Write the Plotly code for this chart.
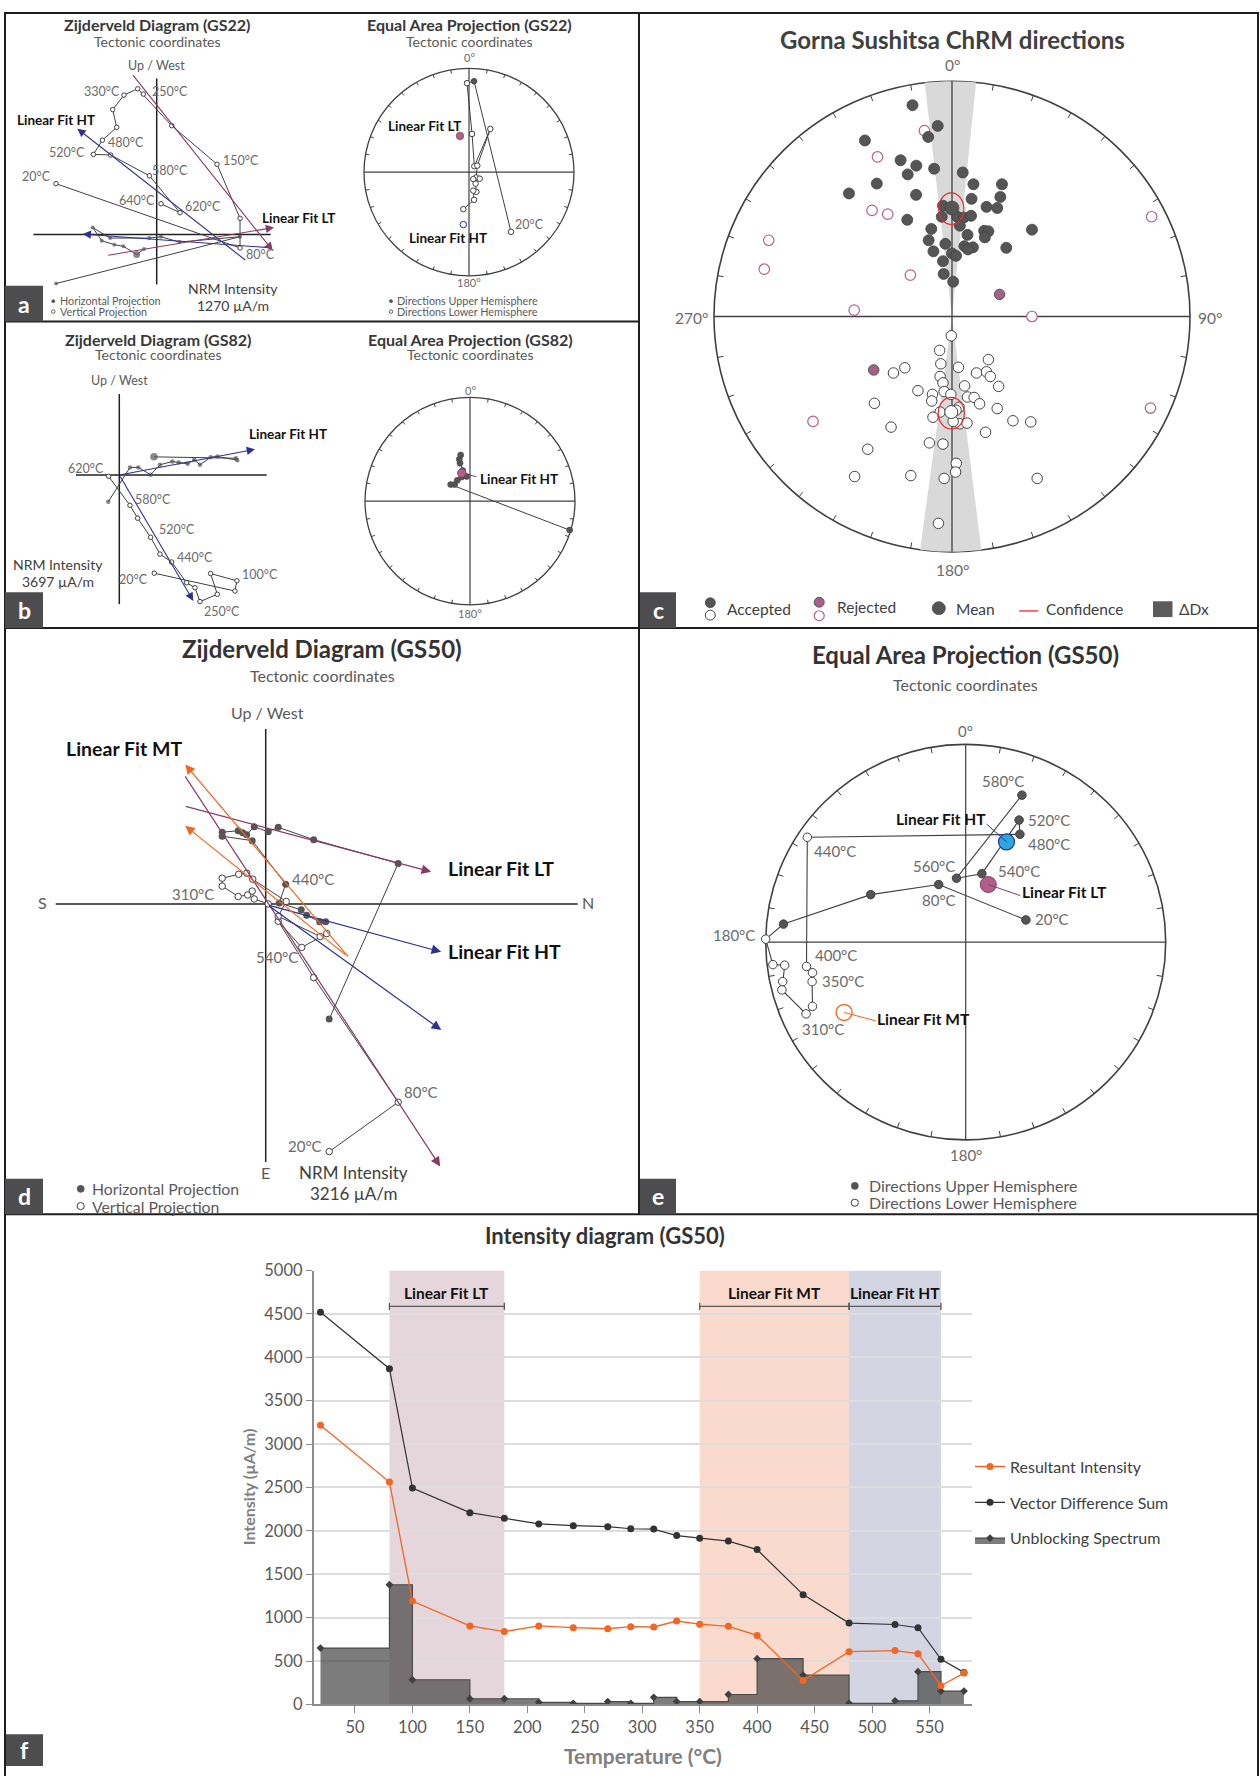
import numpy as np
import plotly.graph_objects as go

W, H = 1260, 1776
FONT = "Lato, 'Open Sans', sans-serif"
DARK = "#555555"
EDGE = "#404040"
LBL = "#6b6b6b"
TITLE = "#383838"
SUB = "#5a5a5a"
C_LT = "#8a3a66"
C_HT = "#2e3192"
C_MT = "#f26522"
C_REJ = "#b5608a"

# ------------------------------------------------------------------
# Panel a - GS22 Zijderveld (x = North, y = West / Up, arbitrary units)
gs22_hor_n = [-3.02, 2.50, 0.68, 0.13, -0.22, -1.40, -1.92, -1.65, -1.27, -1.00, -0.60, -0.38]
gs22_hor_w = [-1.49, -0.07, -0.23, -0.07, -0.11, -0.11, 0.21, -0.19, -0.31, -0.36, -0.61, -0.44]
gs22_ver_n = [-3.02, 2.50, 2.50, 1.81, 0.45, -0.40, -0.57, -0.98, -1.32, -1.20, -1.63, -1.90, -1.38, -0.22, 0.70, 0.13]
gs22_ver_up = [1.54, -0.41, 0.49, 2.13, 3.30, 4.26, 4.42, 4.23, 3.79, 3.25, 2.86, 2.43, 2.41, 1.78, 0.66, 0.93]
gs22_fit_name = ["HT", "HT", "LT", "LT"]
gs22_fit_from = [(2.70, -0.81), (3.50, -0.41), (-0.75, 4.88), (-1.50, -0.64)]
gs22_fit_to = [(-2.38, 3.21), (-2.22, 0.01), (3.48, -0.49), (3.52, 0.21)]

# Panel a - GS22 equal-area directions (projected east / north, unit circle)
gs22_ea_x = [0.40, 0.048, -0.019, 0.029, 0.051, 0.203, 0.079, 0.067, 0.102, 0.041, 0.063, 0.070, 0.041, 0.048, -0.054]
gs22_ea_y = [-0.575, 0.876, 0.857, 0.368, 0.057, 0.416, 0.063, -0.051, -0.063, -0.067, -0.111, -0.190, -0.178, -0.267, -0.356]
gs22_ea_upper = [False, True] + [False] * 13
gs22_fit_dir_x = [-0.086, -0.054]   # LT, HT
gs22_fit_dir_y = [0.349, -0.505]

# Panel b - GS82 Zijderveld
gs82_hor_n = [1.04, 3.50, 3.54, 2.94, 2.74, 2.42, 2.25, 2.05, 1.78, 1.59, 1.22, 0.94, 0.57, 0.32, -0.33]
gs82_hor_w = [0.55, 0.51, 0.45, 0.56, 0.54, 0.31, 0.46, 0.34, 0.38, 0.41, 0.31, 0.01, 0.23, 0.23, -0.81]
gs82_ver_n = [1.05, 3.47, 3.53, 2.74, 2.94, 2.42, 2.27, 2.02, 1.57, 1.22, 0.94, 0.55, 0.32, -0.32]
gs82_ver_up = [-2.98, -3.52, -3.21, -2.99, -3.62, -3.84, -3.42, -3.27, -2.64, -2.40, -1.89, -1.31, -0.92, -0.04]
gs82_fit_from = [(0.0, 0.0), (0.0, 0.0)]
gs82_fit_to = [(4.07, 0.78), (2.22, -3.82)]

# Panel b - GS82 equal-area directions
gs82_ea_x = [0.949, -0.184, -0.146, -0.121, -0.079, -0.032, -0.070, -0.095, -0.102, -0.089]
gs82_ea_y = [-0.279, 0.159, 0.159, 0.200, 0.232, 0.238, 0.295, 0.365, 0.403, 0.444]
gs82_fit_dir = (-0.079, 0.270)

# Panel c - site ChRM directions (projected east / north)
c_up_x = [-0.166, -0.060, -0.100, -0.366, -0.216, -0.150, -0.075, -0.186, 0.045, -0.316, 0.090, 0.210,
          -0.433, -0.151, 0.082, 0.203, -0.038, 0.145, 0.190, -0.188, -0.043, 0.022, 0.050, 0.080,
          0.033, -0.087, 0.135, 0.153, 0.336, 0.065, -0.098, 0.138, -0.028, 0.052, 0.088, 0.067,
          0.228, -0.078, 0.000, 0.017, -0.038, -0.035, 0.005]
c_up_y = [0.898, 0.810, 0.763, 0.748, 0.664, 0.641, 0.628, 0.604, 0.612, 0.565, 0.562, 0.562,
          0.523, 0.517, 0.500, 0.508, 0.471, 0.466, 0.461, 0.411, 0.424, 0.424, 0.421, 0.428,
          0.386, 0.372, 0.364, 0.362, 0.369, 0.347, 0.324, 0.336, 0.309, 0.299, 0.294, 0.285,
          0.292, 0.277, 0.268, 0.258, 0.235, 0.181, 0.148]
c_low_x = [-0.003, -0.052, -0.047, -0.198, -0.246, 0.027, 0.153, 0.103, 0.145, 0.161, -0.050, -0.038,
           0.053, 0.196, -0.143, -0.082, -0.033, -0.005, 0.065, 0.093, 0.116, -0.085, -0.326, 0.190,
           0.030, -0.050, 0.017, -0.080, 0.033, 0.063, 0.005, -0.256, 0.256, 0.331, 0.141, -0.095,
           -0.038, -0.354, 0.018, 0.015, -0.409, -0.173, -0.033, 0.358, -0.057]
c_low_y = [-0.082, -0.144, -0.201, -0.218, -0.240, -0.216, -0.183, -0.240, -0.235, -0.255, -0.255, -0.282,
           -0.295, -0.297, -0.315, -0.331, -0.319, -0.331, -0.342, -0.344, -0.371, -0.359, -0.369, -0.391,
           -0.386, -0.406, -0.398, -0.428, -0.456, -0.453, -0.446, -0.470, -0.443, -0.448, -0.492, -0.537,
           -0.542, -0.564, -0.624, -0.661, -0.680, -0.676, -0.688, -0.688, -0.879]
c_rej_open_x = [-0.116, -0.313, -0.336, -0.270, -0.770, -0.789, -0.175, -0.411, 0.336, 0.839, 0.834, -0.584]
c_rej_open_y = [0.790, 0.678, 0.451, 0.435, 0.324, 0.201, 0.176, 0.027, 0.000, 0.424, -0.389, -0.446]
c_rej_fill_x = [0.200, -0.329]
c_rej_fill_y = [0.094, -0.227]
c_mean_x = [0.000, -0.003]          # normal, reversed
c_mean_y = [0.461, -0.406]
c_mean_dec = [359.6, 180.3]
c_delta_dx = [6.2, 7.4]             # degrees
c_a95_cx = [-0.003, -0.003]
c_a95_cy = [0.458, -0.411]
c_a95_rx = [0.053, 0.055]
c_a95_ry = [0.067, 0.067]

# Panel d - GS50 Zijderveld
gs50_hor_n = [1.27, 2.65, 0.96, 0.25, 0.05, -0.23, -0.38, -0.46, -0.55, -0.87, -0.87, -0.27, 0.40, 0.27, 0.71, 0.82, 1.08, 1.20]
gs50_hor_w = [-2.33, 0.82, 1.30, 1.55, 1.46, 1.56, 1.40, 1.44, 1.48, 1.45, 1.37, 1.28, 0.40, 0.02, -0.12, -0.23, -0.36, -0.36]
gs50_ver_n = [1.27, 2.65, 0.96, 0.25, 0.72, 1.22, 1.09, 0.25, 0.41, -0.26, -0.38, -0.54, -0.87, -0.87, -0.55, -0.36, -0.27, -0.23, 0.05]
gs50_ver_up = [-5.01, -4.01, -1.49, -0.35, -0.88, -0.60, -0.66, -0.25, 0.05, 0.50, 0.62, 0.60, 0.52, 0.36, 0.15, 0.18, 0.26, 0.10, 0.00]
gs50_fit_name = ["LT", "LT", "HT", "HT", "MT", "MT"]
gs50_fit_from = [(-1.63, 1.98), (-1.63, 2.61), (0.04, -0.02), (0.04, -0.02), (1.67, -1.09), (1.62, -1.05)]
gs50_fit_to = [(3.31, 0.65), (3.49, -5.31), (3.51, -0.97), (3.51, -2.55), (-1.61, 2.82), (-1.61, 1.58)]

# Panel e - GS50 equal-area demagnetisation path
gs50_temp = [20, 80, 100, 150, 180, 210, 240, 270, 290, 310, 330, 350, 375, 400, 440, 480, 520, 540, 560, 580]
gs50_ea_x = [0.301, -0.135, -0.475, -0.911, -1.0, -0.964, -0.905, -0.915, -0.919, -0.798,
             -0.766, -0.768, -0.766, -0.796, -0.792, 0.271, 0.267, 0.081, -0.046, 0.281]
gs50_ea_y = [0.112, 0.291, 0.240, 0.091, 0.015, -0.114, -0.117, -0.200, -0.242, -0.363,
             -0.325, -0.200, -0.155, -0.123, 0.530, 0.545, 0.617, 0.346, 0.323, 0.743]
gs50_ea_upper = [True] * 4 + [False] * 11 + [True] * 5
gs50_fit_dir_name = ["HT", "LT", "MT"]
gs50_fit_dir_x = [0.204, 0.113, -0.608]
gs50_fit_dir_y = [0.507, 0.291, -0.356]

# Panel f - GS50 intensity decay
resultant = [3216, 2563, 1192, 904, 839, 904, 884, 872, 896, 892, 961, 925, 900, 795, 276, 608, 620, 584, 215, 361]
vds = [4520, 3869, 2494, 2210, 2145, 2080, 2060, 2048, 2024, 2020, 1946, 1914, 1882, 1784, 1265, 937, 921, 884, 519, 369]
unblocking = [649, 1379, 284, 65, 65, 24, 12, 32, 12, 81, 32, 32, 114, 527, 337, 12, 41, 377, 154, 154]
fit_labels = ["Linear Fit LT", "Linear Fit MT", "Linear Fit HT"]
fit_t0 = [80, 350, 480]
fit_t1 = [180, 480, 560]
fit_band = ["#e5d6dc", "#f9dacd", "#d3d5e3"]

# ------------------------------------------------------------------
fig = go.Figure()
axes = {}
shapes = []
anns = []


def ref(i):
    return ("x", "y") if i == 1 else (f"x{i}", f"y{i}")


def add_axes(i, box, ox, oy, s):
    x0, x1, y0, y1 = box
    kx = "xaxis" if i == 1 else f"xaxis{i}"
    ky = "yaxis" if i == 1 else f"yaxis{i}"
    xr, yr = ref(i)
    axes[kx] = dict(domain=[x0 / W, x1 / W], range=[(x0 - ox) / s, (x1 - ox) / s],
                    visible=False, anchor=yr, fixedrange=True)
    axes[ky] = dict(domain=[1 - y1 / H, 1 - y0 / H], range=[(oy - y1) / s, (oy - y0) / s],
                    visible=False, anchor=xr, fixedrange=True)


def add_ea_axes(i, cx, cy, r, k):
    add_axes(i, (cx - k * r, cx + k * r, cy - k * r, cy + k * r), cx, cy, r)


def text(x, y, s, size, color=TITLE, bold=False, xa="center", ya="middle", angle=0):
    anns.append(dict(x=x / W, y=1 - y / H, xref="paper", yref="paper",
                     text=f"<b>{s}</b>" if bold else s, showarrow=False, textangle=angle,
                     font=dict(family=FONT, size=size, color=color), xanchor=xa, yanchor=ya))


def point_text(i, x, y, s, size, xa, dx, dy, color=LBL):
    xr, yr = ref(i)
    anns.append(dict(x=x, y=y, xref=xr, yref=yr, text=s, showarrow=False, xanchor=xa,
                     yanchor="middle", xshift=dx, yshift=dy,
                     font=dict(family=FONT, size=size, color=color)))


def arrow(i, p0, p1, color, width, head):
    xr, yr = ref(i)
    anns.append(dict(x=p1[0], y=p1[1], ax=p0[0], ay=p0[1], xref=xr, yref=yr, axref=xr, ayref=yr,
                     text="", showarrow=True, arrowhead=2, arrowsize=head, arrowwidth=width,
                     arrowcolor=color, standoff=0))


def seg(i, x0, y0, x1, y1, color=EDGE, width=1.0, layer="below"):
    xr, yr = ref(i)
    shapes.append(dict(type="line", xref=xr, yref=yr, x0=x0, y0=y0, x1=x1, y1=y1,
                       line=dict(color=color, width=width), layer=layer))


def pseg(x0, y0, x1, y1, color, width):
    shapes.append(dict(type="line", xref="paper", yref="paper", x0=x0 / W, y0=1 - y0 / H,
                       x1=x1 / W, y1=1 - y1 / H, line=dict(color=color, width=width)))


def pcirc(cx, cy, r, fill, line, lw=1.0):
    shapes.append(dict(type="circle", xref="paper", yref="paper", x0=(cx - r) / W, x1=(cx + r) / W,
                       y0=1 - (cy + r) / H, y1=1 - (cy - r) / H, fillcolor=fill,
                       line=dict(color=line, width=lw)))


def prect(x0, y0, x1, y1, fill, line=None, lw=0):
    shapes.append(dict(type="rect", xref="paper", yref="paper", x0=x0 / W, x1=x1 / W,
                       y0=1 - y1 / H, y1=1 - y0 / H, fillcolor=fill,
                       line=dict(color=line or fill, width=lw)))


def ea_frame(i, tick, lw, cross=True):
    xr, yr = ref(i)
    shapes.append(dict(type="circle", xref=xr, yref=yr, x0=-1, x1=1, y0=-1, y1=1,
                       line=dict(color=EDGE, width=lw), layer="below"))
    for a in range(10, 360, 10):
        if a % 90 == 0:
            continue
        t = np.radians(a)
        seg(i, np.sin(t), np.cos(t), (1 - tick) * np.sin(t), (1 - tick) * np.cos(t), EDGE, 1.0)
    if cross:
        seg(i, -1, 0, 1, 0, EDGE, 1.2)
        seg(i, 0, -1, 0, 1, EDGE, 1.2)


def zij_frame(i, xlo, xhi, ylo, yhi):
    seg(i, xlo, 0, xhi, 0, "#222222", 1.5)
    seg(i, 0, ylo, 0, yhi, "#222222", 1.5)


def line_trace(i, x, y, color=EDGE, width=1.0):
    xr, yr = ref(i)
    fig.add_trace(go.Scatter(x=x, y=y, xaxis=xr, yaxis=yr, mode="lines",
                             line=dict(color=color, width=width), showlegend=False, hoverinfo="skip"))


def dots(i, x, y, fill, size, edge=EDGE, ew=1.0, mode="markers", lw=1.0):
    xr, yr = ref(i)
    fig.add_trace(go.Scatter(x=x, y=y, xaxis=xr, yaxis=yr, mode=mode,
                             line=dict(color=EDGE, width=lw),
                             marker=dict(color=fill, size=size, line=dict(color=edge, width=ew)),
                             showlegend=False, hoverinfo="skip"))


fit_color = {"LT": C_LT, "HT": C_HT, "MT": C_MT}

# ------------------------------------------------------------------
# a: GS22 Zijderveld
add_axes(1, (8, 318, 40, 312), 156.7, 227.0, 33.33)
zij_frame(1, -3.70, 3.42, -1.52, 4.73)
big = [4] * len(gs22_hor_n)
big[10] = 7
dots(1, gs22_hor_n, gs22_hor_w, DARK, big, edge=DARK, ew=0, mode="lines+markers")
dots(1, gs22_ver_n, gs22_ver_up, "white", 4.5, mode="lines+markers")
for name, p0, p1 in zip(gs22_fit_name, gs22_fit_from, gs22_fit_to):
    arrow(1, p0, p1, fit_color[name], 1.1, 1.5)
for idx, s, xa, dx, dy in [(0, "20°C", "right", -3, 7), (1, "80°C", "left", 4, -7),
                           (3, "150°C", "left", 4, 4), (5, "250°C", "left", 7, 3),
                           (7, "330°C", "right", -2, 4), (10, "480°C", "left", 4, -2),
                           (11, "520°C", "right", -6, 2), (13, "580°C", "left", 1, 5),
                           (14, "620°C", "left", 3, 6), (15, "640°C", "right", -4, 3)]:
    point_text(1, gs22_ver_n[idx], gs22_ver_up[idx], s, 12.5, xa, dx, dy)
text(157, 15, "Zijderveld Diagram (GS22)", 16, TITLE, True)
text(157, 32, "Tectonic coordinates", 14, SUB)
text(156.7, 56, "Up / West", 12.5, SUB)
text(15, 111.7, "Linear Fit HT", 13.5, "#111111", True, xa="left")
text(260, 210.7, "Linear Fit LT", 13.5, "#111111", True, xa="left")
text(233, 282, "NRM Intensity", 14, "#404040")
text(233, 299, "1270 µA/m", 14, "#404040")
pcirc(53.3, 294.5, 1.6, DARK, DARK, 0.5)
pcirc(53.3, 305, 1.8, "white", EDGE, 0.8)
text(57.5, 294.2, "Horizontal Projection", 10.8, SUB, xa="left")
text(57.5, 305.3, "Vertical Projection", 10.8, SUB, xa="left")

# a: GS22 equal-area
add_ea_axes(2, 469, 164, 105, 1.35)
ea_frame(2, 0.035, 1.3)
dots(2, gs22_ea_x, gs22_ea_y, [DARK if u else "white" for u in gs22_ea_upper], 5.5,
     mode="lines+markers")
dots(2, gs22_fit_dir_x[:1], gs22_fit_dir_y[:1], C_REJ, 7.5, edge="#8a4a6a", ew=0.8)
dots(2, gs22_fit_dir_x[1:], gs22_fit_dir_y[1:], "white", 6.5, edge=C_HT, ew=1.0)
point_text(2, gs22_ea_x[0], gs22_ea_y[0], "20°C", 12.5, "left", 2, 7)
text(469, 15, "Equal Area Projection (GS22)", 16, TITLE, True)
text(469, 32, "Tectonic coordinates", 14, SUB)
text(469, 48, "0°", 11, LBL)
text(469, 275.3, "180°", 11, LBL)
text(386, 117.3, "Linear Fit LT", 13.5, "#111111", True, xa="left")
text(407, 231, "Linear Fit HT", 13.5, "#111111", True, xa="left")
pcirc(391, 294.5, 1.6, DARK, DARK, 0.5)
pcirc(391, 305, 1.8, "white", EDGE, 0.8)
text(395, 294.2, "Directions Upper Hemisphere", 10.8, SUB, xa="left")
text(395, 305.3, "Directions Lower Hemisphere", 10.8, SUB, xa="left")

# ------------------------------------------------------------------
# b: GS82 Zijderveld
add_axes(3, (8, 318, 330, 622), 119.3, 470.3, 33.33)
zij_frame(3, -1.30, 4.42, -3.92, 2.46)
big = [4.5] * len(gs82_hor_n)
big[0] = 7.5
dots(3, gs82_hor_n, gs82_hor_w, DARK, big, edge=DARK, ew=0, mode="lines+markers")
dots(3, gs82_ver_n, gs82_ver_up, "white", 4.5, mode="lines+markers")
for p0, p1 in zip(gs82_fit_from, gs82_fit_to):
    arrow(3, p0, p1, C_HT, 1.1, 1.5)
for idx, s, xa, dx, dy in [(0, "20°C", "right", -4, -6), (2, "100°C", "left", 3, 6),
                           (5, "250°C", "left", 2, -10), (8, "440°C", "left", 3, 5),
                           (10, "520°C", "left", 6, 8), (12, "580°C", "left", 3, 6),
                           (13, "620°C", "right", -3, 8)]:
    point_text(3, gs82_ver_n[idx], gs82_ver_up[idx], s, 12.5, xa, dx, dy)
text(158, 333.3, "Zijderveld Diagram (GS82)", 16, TITLE, True)
text(158, 348.3, "Tectonic coordinates", 14, SUB)
text(119.3, 375, "Up / West", 12.5, SUB)
text(247, 429, "Linear Fit HT", 13.5, "#111111", True, xa="left")
text(58, 561, "NRM Intensity", 14, "#404040")
text(58, 578, "3697 µA/m", 14, "#404040")

# b: GS82 equal-area
add_ea_axes(4, 470, 496.7, 105, 1.35)
ea_frame(4, 0.035, 1.3)
dots(4, gs82_ea_x, gs82_ea_y, DARK, 6, edge=EDGE, ew=0.6, mode="lines+markers")
shapes.append(dict(type="line", xref="x4", yref="y4", x0=gs82_fit_dir[0], y0=gs82_fit_dir[1],
                   x1=gs82_fit_dir[0] + 0.14, y1=gs82_fit_dir[1] - 0.035,
                   line=dict(color=C_LT, width=1), layer="below"))
dots(4, [gs82_fit_dir[0]], [gs82_fit_dir[1]], C_REJ, 8.5, edge="#7a3a5a", ew=0.8)
text(470, 333.3, "Equal Area Projection (GS82)", 16, TITLE, True)
text(470, 348.3, "Tectonic coordinates", 14, SUB)
text(470, 385, "0°", 11, LBL)
text(470, 610, "180°", 11, LBL)
text(478, 474.3, "Linear Fit HT", 13.5, "#111111", True, xa="left")

# ------------------------------------------------------------------
# c: ChRM directions
add_ea_axes(5, 952, 310, 238, 1.1)
ea_frame(5, 0.025, 1.6, cross=False)
for dec, dd in zip(c_mean_dec, c_delta_dx):
    ang = np.radians(np.linspace(dec - dd, dec + dd, 25))
    wx = np.concatenate([[0], np.sin(ang), [0]])
    wy = np.concatenate([[0], np.cos(ang), [0]])
    fig.add_trace(go.Scatter(x=wx, y=wy, xaxis="x5", yaxis="y5", mode="lines", fill="toself",
                             fillcolor="#d8d9d8", line=dict(width=0, color="#d8d9d8"),
                             showlegend=False, hoverinfo="skip"))
line_trace(5, [-1, 1], [0, 0], EDGE, 1.3)
line_trace(5, [0, 0], [-1, 1], EDGE, 1.3)
dots(5, c_rej_open_x, c_rej_open_y, "white", 10.5, edge=C_REJ, ew=1.2)
dots(5, c_rej_fill_x, c_rej_fill_y, "#a65f86", 10.5, edge="#555555", ew=1.0)
dots(5, c_up_x, c_up_y, DARK, 11, edge="#444444", ew=0.8)
dots(5, c_low_x, c_low_y, "white", 10.5, edge="#444444", ew=1.0)
dots(5, c_mean_x[:1], c_mean_y[:1], DARK, 14, edge="#444444", ew=0.8)
dots(5, c_mean_x[1:], c_mean_y[1:], "white", 13, edge="#444444", ew=1.0)
for cx, cy, rx, ry in zip(c_a95_cx, c_a95_cy, c_a95_rx, c_a95_ry):
    shapes.append(dict(type="circle", xref="x5", yref="y5", x0=cx - rx, x1=cx + rx,
                       y0=cy - ry, y1=cy + ry, line=dict(color="#e8282e", width=1.2)))
text(952, 30, "Gorna Sushitsa ChRM directions", 24, "#404040", True)
text(952, 56, "0°", 15.5, LBL)
text(952, 566, "180°", 15.5, LBL)
text(710, 311.7, "270°", 15.5, LBL, xa="right")
text(1196, 311.7, "90°", 15.5, LBL, xa="left")
# legend of panel c
pcirc(710.3, 599.5, 5, DARK, "#444444", 0.8)
pcirc(710.3, 612, 5, "white", "#444444", 1.0)
text(725, 606, "Accepted", 15.5, "#404040", xa="left")
pcirc(819.2, 599, 5, "#a65f86", "#555555", 1.0)
pcirc(819.2, 612.6, 5, "white", C_REJ, 1.2)
text(835, 604, "Rejected", 15.5, "#404040", xa="left")
pcirc(938.8, 605, 6.5, DARK, "#444444", 0.8)
text(953.5, 606, "Mean", 15.5, "#404040", xa="left")
pseg(1019.2, 607.8, 1038.2, 607.8, "#e8282e", 1.3)
text(1044, 606, "Confidence", 15.5, "#404040", xa="left")
prect(1153, 598, 1172.5, 614, "#5c5c5c")
text(1177, 606, "ΔDx", 15.5, "#404040", xa="left")

# ------------------------------------------------------------------
# d: GS50 Zijderveld
add_axes(6, (8, 632, 690, 1214), 265.7, 904.1, 50.0)
zij_frame(6, -4.20, 6.24, -5.22, 3.54)
dots(6, gs50_hor_n, gs50_hor_w, DARK, 7, edge=DARK, ew=0, mode="lines+markers")
dots(6, gs50_ver_n, gs50_ver_up, "white", 6.5, mode="lines+markers")
for name, p0, p1 in zip(gs50_fit_name, gs50_fit_from, gs50_fit_to):
    arrow(6, p0, p1, fit_color[name], 1.2, 1.6)
point_text(6, gs50_hor_n[12], gs50_hor_w[12], "440°C", 15, "left", 4, 5)
for idx, s, xa, dx, dy in [(13, "310°C", "right", -6, -8), (4, "540°C", "right", -2, -10),
                           (1, "80°C", "left", 4, 10), (0, "20°C", "right", -5, 6)]:
    point_text(6, gs50_ver_n[idx], gs50_ver_up[idx], s, 15, xa, dx, dy)
text(322, 645.8, "Zijderveld Diagram (GS50)", 24, "#333333", True)
text(322, 673.4, "Tectonic coordinates", 16, SUB)
text(267, 710, "Up / West", 16, SUB)
text(42.4, 903, "S", 16, SUB)
text(588, 903, "N", 16, SUB)
text(265, 1176, "E", 16, SUB)
text(64, 747, "Linear Fit MT", 19.5, "#111111", True, xa="left")
text(446, 868, "Linear Fit LT", 19.5, "#111111", True, xa="left")
text(446, 952.5, "Linear Fit HT", 19.5, "#111111", True, xa="left")
text(353.7, 1176, "NRM Intensity", 17, "#404040")
text(353.7, 1197, "3216 µA/m", 17, "#404040")
pcirc(80.7, 1192.3, 3.6, DARK, DARK, 0.5)
pcirc(80.7, 1209.7, 3.6, "white", EDGE, 1.0)
text(89.5, 1192.3, "Horizontal Projection", 15.8, SUB, xa="left")
text(89.5, 1209.7, "Vertical Projection", 15.8, SUB, xa="left")

# ------------------------------------------------------------------
# e: GS50 equal-area
add_ea_axes(7, 965.7, 942.7, 200, 1.2)
ea_frame(7, 0.03, 1.6)
dots(7, gs50_ea_x, gs50_ea_y, [DARK if u else "white" for u in gs50_ea_upper], 8.5,
     mode="lines+markers", lw=1.1)
# leader lines from fitted directions to their labels
leader = {"HT": (-0.10, 0.09), "LT": (0.16, -0.056), "MT": (0.158, -0.042)}
for name, x, y in zip(gs50_fit_dir_name, gs50_fit_dir_x, gs50_fit_dir_y):
    seg(7, x, y, x + leader[name][0], y + leader[name][1], fit_color[name], 1.0, "above")
dots(7, gs50_fit_dir_x[:1], gs50_fit_dir_y[:1], "#29a9e0", 16, edge=C_HT, ew=1.2)
dots(7, gs50_fit_dir_x[1:2], gs50_fit_dir_y[1:2], "#b06088", 16, edge="#8a3a66", ew=1.0)
dots(7, gs50_fit_dir_x[2:], gs50_fit_dir_y[2:], "white", 16, edge=C_MT, ew=1.3)
e_labels = {20: ("left", 7, 1), 80: ("center", 0, -15), 180: ("right", -9, 4),
            310: ("center", 17, -15), 350: ("left", 8, 1), 400: ("left", 6, 11),
            440: ("left", 5, -14), 480: ("left", 6, -10), 520: ("left", 7, 0),
            540: ("left", 14, 3), 560: ("right", 0, 12), 580: ("center", -19, 14)}
for t, x, y in zip(gs50_temp, gs50_ea_x, gs50_ea_y):
    if t in e_labels:
        xa, dx, dy = e_labels[t]
        point_text(7, x, y, f"{t}°C", 15, xa, dx, dy)
text(965.7, 651.5, "Equal Area Projection (GS50)", 24, "#333333", True)
text(965.7, 681.7, "Tectonic coordinates", 16, SUB)
text(965.7, 729, "0°", 15, LBL)
text(965.7, 1158.3, "180°", 15, LBL)
text(988, 818.6, "Linear Fit HT", 15.5, "#111111", True, xa="right")
text(1020, 891.6, "Linear Fit LT", 15.5, "#111111", True, xa="left")
text(875, 1020, "Linear Fit MT", 15.5, "#111111", True, xa="left")
pcirc(854.8, 1189.3, 3.6, DARK, DARK, 0.5)
pcirc(854.8, 1206.3, 3.6, "white", EDGE, 1.0)
text(866.5, 1189.3, "Directions Upper Hemisphere", 16, SUB, xa="left")
text(866.5, 1206.3, "Directions Lower Hemisphere", 16, SUB, xa="left")

# ------------------------------------------------------------------
# f: intensity diagram
axes["xaxis8"] = dict(domain=[313.6 / W, 972 / W], range=[14, 587], anchor="y8",
                      tickvals=list(range(50, 600, 50)), ticks="outside", ticklen=7, tickwidth=1.2,
                      tickcolor="#8c8c8c", showline=True, linecolor="#8c8c8c", linewidth=1.5,
                      showgrid=False, zeroline=False, fixedrange=True,
                      tickfont=dict(family=FONT, size=16.5, color="#595959"))
axes["yaxis8"] = dict(domain=[1 - 1713.7 / H, 1 - 1274.9 / H], range=[0, 5000], anchor="x8",
                      tick0=0, dtick=500, ticks="outside", ticklen=6, tickwidth=1.2,
                      tickcolor="#8c8c8c", showline=True, linecolor="#8c8c8c", linewidth=1.5,
                      showgrid=True, gridcolor="#dddddd", gridwidth=1.5, zeroline=False,
                      fixedrange=True, tickfont=dict(family=FONT, size=16.5, color="#595959"))
for lab, t0, t1, col in zip(fit_labels, fit_t0, fit_t1, fit_band):
    shapes.append(dict(type="rect", xref="x8", yref="y8", x0=t0, x1=t1, y0=0, y1=5000,
                       fillcolor=col, line=dict(width=0), layer="below"))
    shapes.append(dict(type="line", xref="x8", yref="y8", x0=t0, x1=t1, y0=4587, y1=4587,
                       line=dict(color="#5a5a5a", width=1.3)))
    for tt in (t0, t1):
        shapes.append(dict(type="line", xref="x8", yref="y8", x0=tt, x1=tt, y0=4545, y1=4630,
                           line=dict(color="#5a5a5a", width=1.3)))
    anns.append(dict(x=(t0 + t1) / 2, y=4740, xref="x8", yref="y8", text=f"<b>{lab}</b>",
                     showarrow=False, font=dict(family=FONT, size=15.5, color="#111111")))

fig.add_trace(go.Scatter(x=gs50_temp, y=unblocking, xaxis="x8", yaxis="y8", mode="lines+markers",
                         line=dict(shape="hv", color="#4a4a4a", width=1.2), fill="tozeroy",
                         fillcolor="rgba(62,62,62,0.68)",
                         marker=dict(symbol="diamond", size=6, color="#404040"),
                         name="Unblocking Spectrum", legendgroup="us", legendrank=3,
                         hoverinfo="skip"))
fig.add_trace(go.Scatter(x=gs50_temp, y=vds, xaxis="x8", yaxis="y8", mode="lines+markers",
                         line=dict(color="#333333", width=1.2), marker=dict(size=7, color="#333333"),
                         name="Vector Difference Sum", legendgroup="vds", legendrank=2,
                         hoverinfo="skip"))
fig.add_trace(go.Scatter(x=gs50_temp, y=resultant, xaxis="x8", yaxis="y8", mode="lines+markers",
                         line=dict(color=C_MT, width=1.3), marker=dict(size=7, color=C_MT),
                         name="Resultant Intensity", legendgroup="ri", legendrank=1,
                         hoverinfo="skip"))
text(604.5, 1239, "Intensity diagram (GS50)", 22, "#333333", True)
text(248, 1494, "Intensity (µA/m)", 16, "#808080", True, angle=-90)
text(642.8, 1765, "Temperature (°C)", 21, "#808080", True)

# ------------------------------------------------------------------
# panel frames and letters
BORDER = "#1e1e1e"
shapes.append(dict(type="rect", xref="paper", yref="paper", x0=5 / W, x1=1258 / W,
                   y0=-0.01, y1=1 - 3 / H, line=dict(color=BORDER, width=2)))
pseg(639, 3, 639, 1218, BORDER, 2)
pseg(5, 315, 639, 315, BORDER, 2)
pseg(5, 625, 1258, 625, BORDER, 2)
pseg(5, 1218, 1258, 1218, BORDER, 2)
for letter, x0, y0, x1, y1 in [("a", 5, 279, 43, 315), ("b", 5, 589, 43, 625),
                               ("c", 640, 589, 676, 625), ("d", 5, 1182, 43, 1218),
                               ("e", 640, 1182, 676, 1218), ("f", 6, 1744, 43, 1776)]:
    prect(x0, y0, x1, y1, "#4d4d4f")
    text((x0 + x1) / 2, (y0 + y1) / 2, letter, 23, "white", True)

for t in fig.data:
    if t.name is None:
        t.showlegend = False

fig.update_layout(width=W, height=H, margin=dict(l=0, r=0, t=0, b=0),
                  paper_bgcolor="white", plot_bgcolor="rgba(0,0,0,0)",
                  font=dict(family=FONT, color="#404040"), hovermode=False,
                  shapes=shapes, annotations=anns, showlegend=True,
                  legend=dict(x=970 / W, y=1 - 1456 / H, xanchor="left", yanchor="top",
                              font=dict(family=FONT, size=16, color="#404040"),
                              bgcolor="rgba(0,0,0,0)", tracegroupgap=12, itemwidth=30),
                  **axes)
# the page body keeps no default margin so the figure sits at the window origin
fig.write_html("out.html", post_script="document.body.style.margin='0';")
